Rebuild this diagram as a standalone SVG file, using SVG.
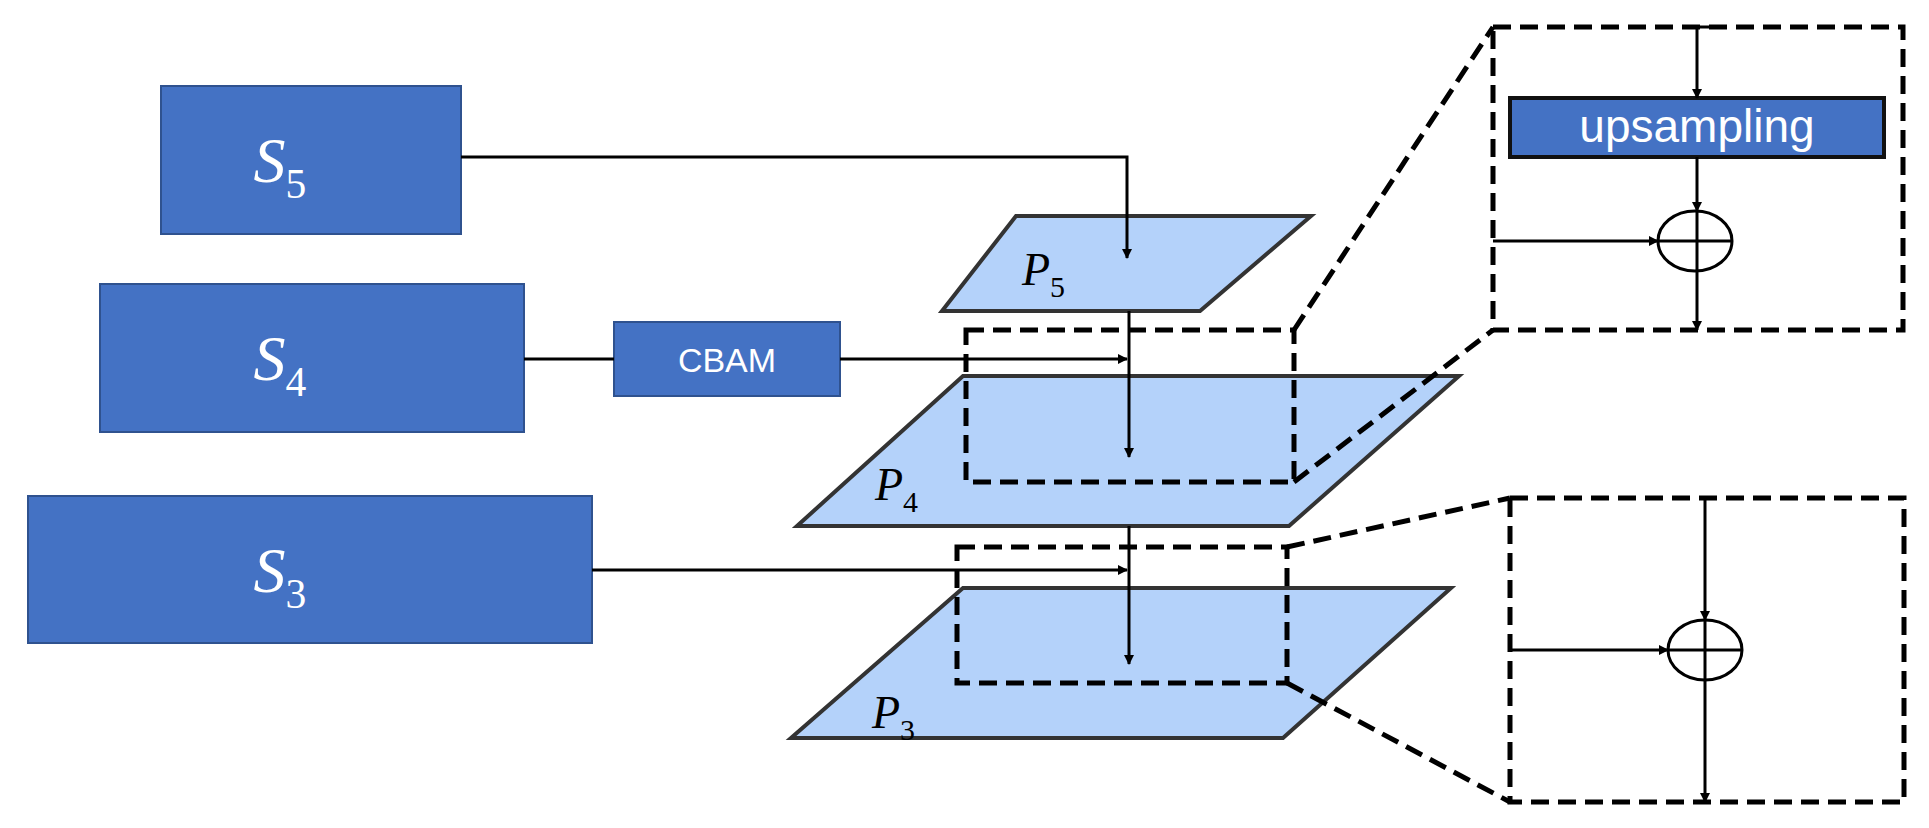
<svg xmlns="http://www.w3.org/2000/svg" width="1929" height="828" viewBox="0 0 1929 828">
<defs>
<marker id="ah" markerWidth="10" markerHeight="10" refX="9" refY="5" orient="auto" markerUnits="userSpaceOnUse" viewBox="0 0 10 10"><path d="M0,0 L10,5 L0,10 z" fill="#000"/></marker>
<style>
.s{fill:#4472c4;stroke:#2f528f;stroke-width:2}
.p{fill:#b4d2fa;stroke:#333;stroke-width:4}
.d{fill:none;stroke:#000;stroke-width:5;stroke-dasharray:18 9}
.c{fill:none;stroke:#000;stroke-width:3}
.a{fill:none;stroke:#000;stroke-width:3;marker-end:url(#ah)}
.lab{font-family:"Liberation Serif",serif;font-style:italic;fill:#fff;font-size:64px}
.plab{font-family:"Liberation Serif",serif;font-style:italic;fill:#000;font-size:46px}
.sub{font-size:0.65em;font-style:normal}
.t{font-family:"Liberation Sans",Arial,sans-serif;fill:#fff}
</style>
</defs>
<g id="S5"><rect class="s" x="161" y="86" width="300" height="148"/><text class="lab" x="280" y="182" text-anchor="middle">S<tspan class="sub" dy="16">5</tspan></text></g>
<g id="S4"><rect class="s" x="100" y="284" width="424" height="148"/><text class="lab" x="280" y="380" text-anchor="middle">S<tspan class="sub" dy="16">4</tspan></text></g>
<g id="S3"><rect class="s" x="28" y="496" width="564" height="147"/><text class="lab" x="280" y="592" text-anchor="middle">S<tspan class="sub" dy="16">3</tspan></text></g>
<g id="CBAM"><rect class="s" x="614" y="322" width="226" height="74"/><text class="t" x="727" y="372" font-size="34" text-anchor="middle">CBAM</text></g>
<g id="P5"><polygon class="p" points="1016,216 1311,216 1200,311 942,311"/><text class="plab" x="1022" y="285">P<tspan class="sub" dy="12">5</tspan></text></g>
<g id="P4"><polygon class="p" points="963,376 1459,376 1289,526 797,526"/><text class="plab" x="875" y="500">P<tspan class="sub" dy="12">4</tspan></text></g>
<g id="P3"><polygon class="p" points="963,588 1451,588 1283,738 791,738"/><text class="plab" x="872" y="728">P<tspan class="sub" dy="12">3</tspan></text></g>
<g id="zoom1">
<rect class="d" x="966" y="330" width="328" height="152"/>
<line class="d" x1="1294" y1="330" x2="1493" y2="27"/>
<line class="d" x1="1294" y1="482" x2="1493" y2="330"/>
<rect class="d" x="1493" y="27" width="410" height="303"/>
<rect fill="#4472c4" stroke="#111" stroke-width="4" x="1510" y="98" width="374" height="59"/>
<text class="t" x="1697" y="142" font-size="46" text-anchor="middle">upsampling</text>
<ellipse class="c" cx="1695" cy="241" rx="37" ry="30"/>
<line class="c" x1="1658" y1="241" x2="1732" y2="241"/>
</g>
<g id="zoom2">
<rect class="d" x="957" y="547" width="330" height="136"/>
<line class="d" x1="1287" y1="547" x2="1510" y2="498"/>
<line class="d" x1="1287" y1="683" x2="1510" y2="802"/>
<rect class="d" x="1510" y="498" width="394" height="304"/>
<ellipse class="c" cx="1705" cy="650" rx="37" ry="30"/>
<line class="c" x1="1668" y1="650" x2="1742" y2="650"/>
</g>
<g id="connectors">
<polyline class="a" points="461,157 1127,157 1127,258"/>
<line class="c" x1="524" y1="359" x2="614" y2="359"/>
<line class="a" x1="840" y1="359" x2="1127" y2="359"/>
<line class="a" x1="1129" y1="311" x2="1129" y2="457"/>
<line class="a" x1="592" y1="570" x2="1127" y2="570"/>
<line class="a" x1="1129" y1="526" x2="1129" y2="664"/>
<polyline class="a" points="1720,27 1697,27 1697,98"/>
<line class="a" x1="1697" y1="157" x2="1697" y2="211"/>
<line class="a" x1="1493" y1="241" x2="1658" y2="241"/>
<line class="a" x1="1697" y1="211" x2="1697" y2="330"/>
<line class="a" x1="1705" y1="498" x2="1705" y2="620"/>
<line class="a" x1="1510" y1="650" x2="1668" y2="650"/>
<line class="a" x1="1705" y1="620" x2="1705" y2="802"/>
</g>
</svg>
